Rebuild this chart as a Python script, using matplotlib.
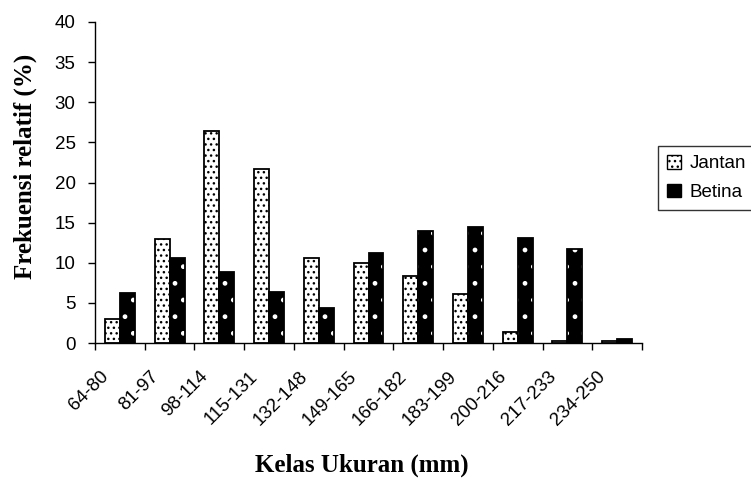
import matplotlib
matplotlib.use("Agg")
import matplotlib.pyplot as plt
import matplotlib.transforms as mtransforms
from matplotlib.patches import Patch
import numpy as np

categories = ["64-80", "81-97", "98-114", "115-131", "132-148", "149-165",
              "166-182", "183-199", "200-216", "217-233", "234-250"]
jantan = [3.0, 12.9, 26.4, 21.7, 10.6, 10.0, 8.3, 6.1, 1.4, 0.3, 0.2]
betina = [6.2, 10.6, 8.8, 6.3, 4.4, 11.2, 14.0, 14.4, 13.1, 11.7, 0.5]
yticks = [0, 5, 10, 15, 20, 25, 30, 35, 40]

plt.rcParams['hatch.linewidth'] = 1.0

fig = plt.figure(figsize=(7.51, 4.8), dpi=100)
ax = fig.add_axes([95/751, 1-343/480, 547/751, 321/480])

x = np.arange(len(categories))
w = 0.3
ax.bar(x - w/2, jantan, w, facecolor='white', edgecolor='black', hatch='...', linewidth=0)
ax.bar(x - w/2, jantan, w, fill=False, edgecolor='black', linewidth=1.3)
ax.bar(x + w/2, betina, w, facecolor='black', edgecolor='white', hatch='.', linewidth=0)
ax.bar(x + w/2, betina, w, fill=False, edgecolor='black', linewidth=1.3)

ax.set_xlim(-0.5, len(categories) - 0.5)
ax.set_ylim(0, 40)
ax.set_yticks(yticks)
ax.tick_params(axis='y', direction='out', length=5, width=1, labelsize=13.5, pad=9)
for lab in ax.get_yticklabels():
    lab.set_fontfamily('Liberation Sans')

ax.set_xticks(np.arange(len(categories) + 1) - 0.5)
ax.set_xticklabels([])
ax.tick_params(axis='x', which='major', direction='out', length=5, width=1)
ax.set_xticks(x, minor=True)
ax.set_xticklabels(categories, minor=True, rotation=45, ha='right', va='top',
                   rotation_mode='anchor', fontsize=13.5, fontfamily='Liberation Sans')
ax.tick_params(axis='x', which='minor', length=0, pad=0)
off = mtransforms.ScaledTranslation(-20/100, -25/100, fig.dpi_scale_trans)
for lab in ax.get_xticklabels(minor=True):
    lab.set_transform(lab.get_transform() + off)

for s in ['top', 'right']:
    ax.spines[s].set_visible(False)
for s in ['left', 'bottom']:
    ax.spines[s].set_linewidth(1)

fig.text(25/751, 1-166/480, "Frekuensi relatif (%)", rotation=90, ha='center', va='center',
         fontsize=18, fontweight='bold', fontfamily='Liberation Serif')
fig.text(362/751, 1-465/480, "Kelas Ukuran (mm)", ha='center', va='center',
         fontsize=18, fontweight='bold', fontfamily='Liberation Serif')

handles = [Patch(facecolor='white', edgecolor='black', hatch='...', linewidth=1),
           Patch(facecolor='black', edgecolor='black', linewidth=1)]
leg = fig.legend(handles, ["Jantan", "Betina"], loc='upper left',
                 bbox_to_anchor=(658/751, 1-146/480), frameon=True, fancybox=False,
                 prop={'family': 'Liberation Sans', 'size': 13.5},
                 handlelength=0.7, handleheight=0.7, handletextpad=0.5,
                 labelspacing=0.6, borderpad=0.5, borderaxespad=0)
leg.get_frame().set_edgecolor('black')
leg.get_frame().set_linewidth(1)

fig.savefig("out.png", dpi=100)
